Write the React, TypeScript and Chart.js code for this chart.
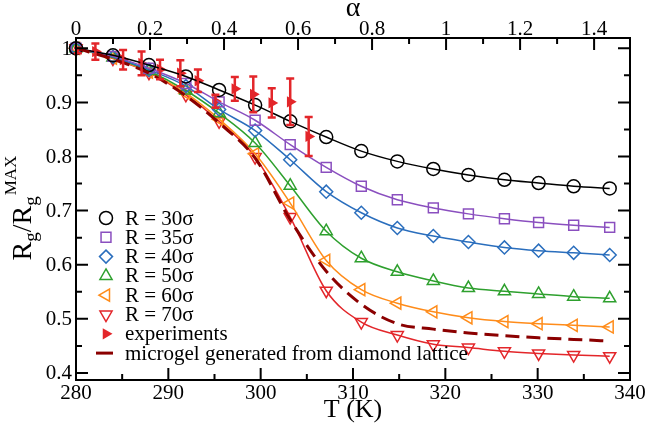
import React, { useEffect, useRef } from 'react';
import { Chart, registerables } from 'chart.js';

Chart.register(...registerables);

// ---- data ----
const temps = [280, 284.0, 287.9, 291.9, 295.5, 299.4, 303.2, 307.1, 310.9, 314.8, 318.7, 322.5, 326.4, 330.1, 333.9, 337.8];
const r30 = [1.0, 0.987, 0.969, 0.948, 0.923, 0.895, 0.865, 0.836, 0.810, 0.791, 0.777, 0.766, 0.757, 0.751, 0.745, 0.741];
const r35 = [1.0, 0.985, 0.963, 0.935, 0.901, 0.867, 0.822, 0.780, 0.745, 0.720, 0.705, 0.694, 0.685, 0.678, 0.673, 0.669];
const r40 = [1.0, 0.984, 0.960, 0.930, 0.887, 0.848, 0.794, 0.735, 0.696, 0.668, 0.653, 0.642, 0.632, 0.626, 0.622, 0.618];
const r50 = [1.0, 0.983, 0.958, 0.922, 0.880, 0.825, 0.746, 0.662, 0.612, 0.587, 0.570, 0.557, 0.551, 0.546, 0.541, 0.538];
const r60 = [1.0, 0.982, 0.956, 0.917, 0.869, 0.805, 0.714, 0.608, 0.554, 0.529, 0.513, 0.502, 0.495, 0.491, 0.488, 0.485];
const r70 = [1.0, 0.981, 0.955, 0.914, 0.865, 0.799, 0.688, 0.552, 0.494, 0.470, 0.453, 0.447, 0.440, 0.436, 0.433, 0.431];
const diamond = [1.0, 0.980, 0.954, 0.912, 0.862, 0.797, 0.683, 0.588, 0.527, 0.491, 0.481, 0.474, 0.469, 0.465, 0.462, 0.459];

const expT = [280.2, 282.1, 285.1, 287.1, 289.1, 291.3, 293.2, 295.1, 297.2, 299.2, 301.2, 303.2, 305.2];
const expVal = [0.996, 0.994, 0.979, 0.972, 0.961, 0.954, 0.940, 0.902, 0.925, 0.915, 0.899, 0.901, 0.837];
const expErr = [0.005, 0.015, 0.018, 0.022, 0.018, 0.024, 0.021, 0.012, 0.022, 0.033, 0.027, 0.043, 0.036];

const xTicks = [280, 290, 300, 310, 320, 330, 340];
const xMinor = [285, 295, 305, 315, 325, 335];
const yTicks = [0.4, 0.5, 0.6, 0.7, 0.8, 0.9, 1];
const yMinor = [0.45, 0.55, 0.65, 0.75, 0.85, 0.95];
const alphaTicks = [0, 0.2, 0.4, 0.6, 0.8, 1, 1.2, 1.4];
const alphaMinor = [0.1, 0.3, 0.5, 0.7, 0.9, 1.1, 1.3];

const seriesLabels = ['R = 30σ', 'R = 35σ', 'R = 40σ', 'R = 50σ', 'R = 60σ', 'R = 70σ', 'experiments', 'microgel generated from diamond lattice'];

const SERIF = "'Liberation Serif', 'Times New Roman', 'DejaVu Serif', serif";
Chart.defaults.font.family = SERIF;
const COLORS = {
  black: '#000000',
  purple: '#8a4fbf',
  blue: '#2a6ebd',
  green: '#2ea02e',
  orange: '#ff8c1a',
  red: '#e3262a',
  dark: '#8b0000',
};

type MarkerSpec = { style: string; rot: number; color: string; r: number; filled?: boolean; line?: boolean };
const markerSpecs: MarkerSpec[] = [
  { style: 'circle', rot: 0, color: COLORS.black, r: 6.5 },
  { style: 'rect', rot: 0, color: COLORS.purple, r: 7 },
  { style: 'rectRot', rot: 0, color: COLORS.blue, r: 6.5 },
  { style: 'triangle', rot: 0, color: COLORS.green, r: 7 },
  { style: 'triangle', rot: -90, color: COLORS.orange, r: 7 },
  { style: 'triangle', rot: 180, color: COLORS.red, r: 7 },
  { style: 'triangle', rot: 90, color: COLORS.red, r: 6.5, filled: true },
  { style: 'line', rot: 0, color: COLORS.dark, r: 0, line: true },
];

function drawMarker(ctx: CanvasRenderingContext2D, m: MarkerSpec, x: number, y: number) {
  ctx.save();
  ctx.strokeStyle = m.color;
  ctx.fillStyle = m.color;
  ctx.lineWidth = 1.5;
  ctx.beginPath();
  const r = m.r;
  if (m.line) {
    ctx.lineWidth = 3;
    ctx.moveTo(x - 10, y);
    ctx.lineTo(x + 7, y);
    ctx.stroke();
    ctx.restore();
    return;
  }
  if (m.style === 'circle') {
    ctx.arc(x, y, r, 0, Math.PI * 2);
  } else if (m.style === 'rect') {
    const s = Math.SQRT1_2 * r;
    ctx.rect(x - s, y - s, 2 * s, 2 * s);
  } else if (m.style === 'rectRot') {
    ctx.moveTo(x, y - r);
    ctx.lineTo(x + r, y);
    ctx.lineTo(x, y + r);
    ctx.lineTo(x - r, y);
    ctx.closePath();
  } else {
    let rad = (m.rot * Math.PI) / 180;
    ctx.moveTo(x + Math.sin(rad) * r, y - Math.cos(rad) * r);
    rad += (2 * Math.PI) / 3;
    ctx.lineTo(x + Math.sin(rad) * r, y - Math.cos(rad) * r);
    rad += (2 * Math.PI) / 3;
    ctx.lineTo(x + Math.sin(rad) * r, y - Math.cos(rad) * r);
    ctx.closePath();
  }
  if (m.filled) ctx.fill();
  else ctx.stroke();
  ctx.restore();
}

const framePlugin = {
  id: 'frame',
  afterDatasetsDraw(chart: any) {
    const { ctx, scales } = chart;
    const x = scales.x;
    const y = scales.y;
    ctx.save();
    ctx.strokeStyle = COLORS.red;
    ctx.lineWidth = 2.5;
    for (let i = 0; i < expT.length; i++) {
      const px = x.getPixelForValue(expT[i]);
      const y1 = y.getPixelForValue(expVal[i] + expErr[i]);
      const y2 = y.getPixelForValue(expVal[i] - expErr[i]);
      ctx.beginPath();
      ctx.moveTo(px, y1);
      ctx.lineTo(px, y2);
      ctx.moveTo(px - 4, y1);
      ctx.lineTo(px + 4, y1);
      ctx.moveTo(px - 4, y2);
      ctx.lineTo(px + 4, y2);
      ctx.stroke();
    }
    ctx.restore();
  },
  afterDraw(chart: any) {
    const { ctx, chartArea, scales } = chart;
    const { left, right, top, bottom } = chartArea;
    const x = scales.x;
    const y = scales.y;
    const a = scales.x2;
    ctx.save();
    ctx.strokeStyle = '#000';
    ctx.lineWidth = 2;
    ctx.strokeRect(left, top, right - left, bottom - top);
    const MAJ = 12;
    const MIN = 6;
    ctx.beginPath();
    xTicks.forEach((v) => {
      const p = x.getPixelForValue(v);
      ctx.moveTo(p, bottom);
      ctx.lineTo(p, bottom - MAJ);
    });
    xMinor.forEach((v) => {
      const p = x.getPixelForValue(v);
      ctx.moveTo(p, bottom);
      ctx.lineTo(p, bottom - MIN);
    });
    alphaTicks.forEach((v) => {
      const p = a.getPixelForValue(v);
      ctx.moveTo(p, top);
      ctx.lineTo(p, top + MAJ);
    });
    alphaMinor.forEach((v) => {
      const p = a.getPixelForValue(v);
      ctx.moveTo(p, top);
      ctx.lineTo(p, top + MIN);
    });
    yTicks.forEach((v) => {
      const p = y.getPixelForValue(v);
      ctx.moveTo(left, p);
      ctx.lineTo(left + MAJ, p);
      ctx.moveTo(right, p);
      ctx.lineTo(right - MAJ, p);
    });
    yMinor.forEach((v) => {
      const p = y.getPixelForValue(v);
      ctx.moveTo(left, p);
      ctx.lineTo(left + MIN, p);
      ctx.moveTo(right, p);
      ctx.lineTo(right - MIN, p);
    });
    ctx.stroke();

    // tick labels, placed through the chart's scales
    ctx.fillStyle = '#000';
    ctx.font = `21px ${SERIF}`;
    ctx.textBaseline = 'middle';
    ctx.textAlign = 'center';
    xTicks.forEach((v) => ctx.fillText(String(v), x.getPixelForValue(v), 393));
    alphaTicks.forEach((v) => ctx.fillText(String(v), a.getPixelForValue(v), 29));
    ctx.textAlign = 'right';
    yTicks.forEach((v) => ctx.fillText(String(v), left - 4, y.getPixelForValue(v) + 1));

    ctx.textAlign = 'center';
    ctx.textBaseline = 'alphabetic';
    ctx.font = `26px ${SERIF}`;
    ctx.fillText('T (K)', (left + right) / 2, 417);
    ctx.font = `28px ${SERIF}`;
    ctx.fillText('α', (left + right) / 2, 16);

    const parts = [
      { t: 'R', size: 28, dv: 0 },
      { t: 'g', size: 19, dv: 6 },
      { t: '/R', size: 28, dv: 0 },
      { t: 'g', size: 19, dv: 6 },
      { t: 'MAX', size: 17, dv: -15 },
    ];
    ctx.textAlign = 'left';
    const widths = parts.map((p) => {
      ctx.font = `${p.size}px ${SERIF}`;
      return ctx.measureText(p.t).width;
    });
    const total = widths.reduce((s, w) => s + w, 0) + 1;
    const cy = 208;
    ctx.save();
    ctx.translate(0, cy);
    ctx.rotate(-Math.PI / 2);
    let u = -total / 2;
    const base = 31;
    parts.forEach((p, i) => {
      ctx.font = `${p.size}px ${SERIF}`;
      if (i === 4) u += 1;
      ctx.fillText(p.t, u, base + p.dv);
      u += widths[i];
    });
    ctx.restore();

    const lx = 106;
    const tx = 125;
    const y0 = 218;
    const dy = 19.3;
    ctx.font = `21px ${SERIF}`;
    ctx.textAlign = 'left';
    ctx.textBaseline = 'middle';
    seriesLabels.forEach((lab, i) => {
      const yy = y0 + i * dy;
      drawMarker(ctx, markerSpecs[i], lx, yy);
      ctx.fillStyle = '#000';
      ctx.fillText(lab, tx, yy + 1);
    });
    ctx.restore();
  },
};

function simDataset(label: string, values: number[], m: MarkerSpec) {
  return {
    label,
    data: temps.map((t, i) => ({ x: t, y: values[i] })),
    showLine: true,
    clip: false,
    borderColor: m.color,
    backgroundColor: m.color,
    borderWidth: 1.5,
    pointStyle: m.style,
    pointRotation: m.rot,
    pointRadius: m.r,
    pointHoverRadius: m.r,
    pointBorderWidth: 1.5,
    pointBorderColor: m.color,
    pointBackgroundColor: 'rgba(0,0,0,0)',
    cubicInterpolationMode: 'monotone',
    xAxisID: 'x',
    yAxisID: 'y',
  };
}

export default function App() {
  const ref = useRef<HTMLCanvasElement | null>(null);
  useEffect(() => {
    if (!ref.current) return;
    const hiddenTicks = { display: false };
    const chart = new Chart(ref.current, {
      type: 'scatter',
      data: {
        datasets: [
          {
            label: seriesLabels[7],
            data: temps.map((t, i) => ({ x: t, y: diamond[i] })),
            showLine: true,
            borderColor: COLORS.dark,
            borderWidth: 3,
            borderDash: [14, 7],
            pointRadius: 0,
            pointHoverRadius: 0,
            cubicInterpolationMode: 'monotone',
            xAxisID: 'x',
            yAxisID: 'y',
          } as any,
          simDataset(seriesLabels[0], r30, markerSpecs[0]),
          simDataset(seriesLabels[1], r35, markerSpecs[1]),
          simDataset(seriesLabels[2], r40, markerSpecs[2]),
          simDataset(seriesLabels[3], r50, markerSpecs[3]),
          simDataset(seriesLabels[4], r60, markerSpecs[4]),
          simDataset(seriesLabels[5], r70, markerSpecs[5]),
          {
            label: seriesLabels[6],
            data: expT.map((t, i) => ({ x: t, y: expVal[i] })),
            showLine: false,
            clip: false,
            pointStyle: 'triangle',
            pointRotation: 90,
            pointRadius: 6.5,
            pointHoverRadius: 6.5,
            pointBorderWidth: 0,
            pointBackgroundColor: COLORS.red,
            pointBorderColor: COLORS.red,
            borderColor: COLORS.red,
            backgroundColor: COLORS.red,
            xAxisID: 'x',
            yAxisID: 'y',
          } as any,
        ] as any,
      },
      options: {
        animation: false,
        responsive: false,
        devicePixelRatio: 1,
        layout: { padding: { left: 0, right: 17, top: 0, bottom: 0 } },
        plugins: {
          legend: { display: false },
          tooltip: { enabled: false },
        },
        scales: {
          x: {
            type: 'linear',
            position: 'bottom',
            min: 280,
            max: 340,
            afterBuildTicks: (s: any) => {
              s.ticks = xTicks.map((v) => ({ value: v }));
            },
            afterFit: (s: any) => {
              s.height = 43;
            },
            grid: { display: false, drawTicks: false },
            border: { display: false },
            ticks: hiddenTicks,
          },
          x2: {
            type: 'linear',
            position: 'top',
            min: 0,
            max: 1.497,
            afterBuildTicks: (s: any) => {
              s.ticks = alphaTicks.map((v) => ({ value: v }));
            },
            afterFit: (s: any) => {
              s.height = 38;
            },
            grid: { display: false, drawTicks: false },
            border: { display: false },
            ticks: hiddenTicks,
          },
          y: {
            type: 'linear',
            position: 'left',
            min: 0.387,
            max: 1.019,
            afterBuildTicks: (s: any) => {
              s.ticks = yTicks.map((v) => ({ value: v }));
            },
            afterFit: (s: any) => {
              s.width = 76;
            },
            grid: { display: false, drawTicks: false },
            border: { display: false },
            ticks: hiddenTicks,
          },
        },
      } as any,
      plugins: [framePlugin],
    });
    let alive = true;
    const redraw = () => {
      if (alive) chart.update();
    };
    const fontsApi: any = (document as any).fonts;
    if (fontsApi && fontsApi.load) {
      Promise.all([21, 26, 28].map((s) => fontsApi.load(`${s}px 'Liberation Serif'`)))
        .then(redraw)
        .catch(() => {});
    }
    const t1 = setTimeout(redraw, 50);
    return () => {
      alive = false;
      clearTimeout(t1);
      chart.destroy();
    };
  }, []);
  return (
    <div style={{ position: 'absolute', left: 0, top: 0, width: 647, height: 423, background: '#fff' }}>
      <canvas ref={ref} width={647} height={423} style={{ display: 'block' }} />
    </div>
  );
}
